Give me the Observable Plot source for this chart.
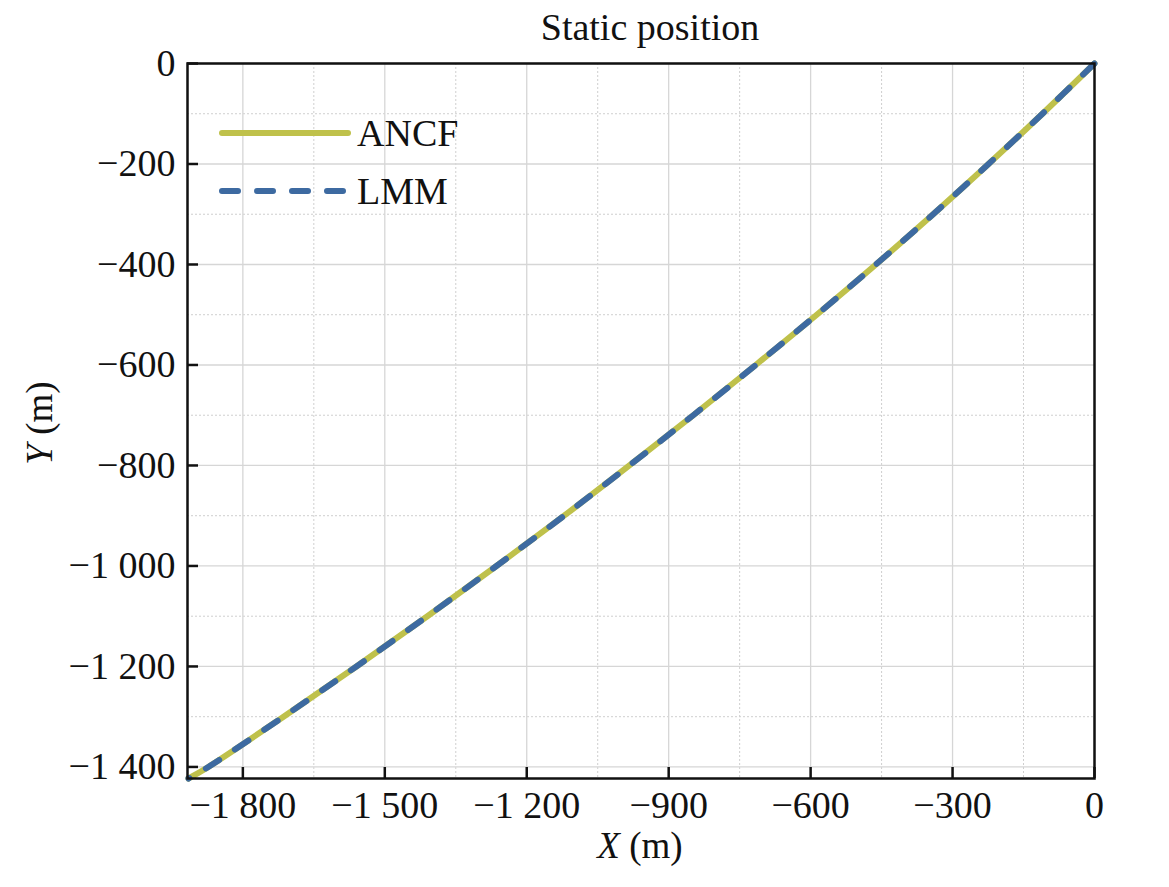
<!DOCTYPE html>
<html><head><meta charset="utf-8">
<script src="https://cdn.jsdelivr.net/npm/d3@7"></script>
<script src="https://cdn.jsdelivr.net/npm/@observablehq/plot@0.6"></script>
<style>
body{margin:0;background:#fff;}
#wrap{position:relative;width:1169px;height:887px;}
</style></head><body><div id="wrap"></div>
<script>
// ---- data ----
const title = "Static position";
const seriesNames = ["ANCF", "LMM"];
const seriesColors = ["#bfc14b", "#3d6aa1"];
const ancfX = [0, -110, -224, -341, -462, -587, -716, -848, -983, -1121, -1264, -1410, -1560, -1714, -1873, -1915];
const ancfY = [0, -100, -200, -300, -400, -500, -600, -700, -800, -900, -1000, -1100, -1200, -1300, -1400, -1423];
const lmmX  = [0, -110, -224, -341, -462, -587, -716, -848, -983, -1121, -1264, -1410, -1560, -1714, -1873, -1915];
const lmmY  = [0, -100, -200, -300, -400, -500, -600, -700, -800, -900, -1000, -1100, -1200, -1300, -1400, -1423];
const xTicks = [-1800, -1500, -1200, -900, -600, -300, 0];
const xMinorTicks = [-1650, -1350, -1050, -750, -450, -150];
const yTicks = [0, -200, -400, -600, -800, -1000, -1200, -1400];
const yMinorTicks = [-100, -300, -500, -700, -900, -1100, -1300];
const xDomain = [-1917, 0];
const yDomain = [-1423, 0];

const FONT = '"Liberation Serif","Times New Roman",serif';
const fmt = d => d === 0 ? "0" : (d < 0 ? "\u2212" : "") + d3.format(",")(Math.abs(d)).replace(/,/g, " ");

const ancf = ancfX.map((x, i) => ({x, y: ancfY[i]}));
const lmm = lmmX.map((x, i) => ({x, y: lmmY[i]}));

const chart = Plot.plot({
  width: 1169,
  height: 887,
  marginLeft: 187,
  marginRight: 75,
  marginTop: 63,
  marginBottom: 109,
  style: {fontFamily: FONT, fontSize: "38px", color: "#111", background: "#fff"},
  x: {domain: xDomain},
  y: {domain: yDomain},
  marks: [
    Plot.gridX(xMinorTicks, {stroke: "#cfcfcf", strokeOpacity: 1, strokeWidth: 1, strokeDasharray: "2,2"}),
    Plot.gridY(yMinorTicks, {stroke: "#cfcfcf", strokeOpacity: 1, strokeWidth: 1, strokeDasharray: "2,2"}),
    Plot.gridX(xTicks, {stroke: "#d6d6d6", strokeOpacity: 1, strokeWidth: 1.3}),
    Plot.gridY(yTicks, {stroke: "#d6d6d6", strokeOpacity: 1, strokeWidth: 1.3}),
    Plot.line(ancf, {x: "x", y: "y", stroke: seriesColors[0], strokeWidth: 6, curve: "catmull-rom"}),
    Plot.line(lmm, {x: "x", y: "y", stroke: seriesColors[1], strokeWidth: 6, strokeDasharray: "16,19", strokeLinecap: "round", curve: "catmull-rom"}),
    Plot.frame({stroke: "#111", strokeWidth: 2.5}),
    Plot.axisX(xTicks, {tickFormat: fmt, tickSize: -11, tickPadding: 24, strokeWidth: 2.5, label: null, fontSize: 38}),
    Plot.axisY(yTicks, {tickFormat: fmt, tickSize: -11, tickPadding: 23, strokeWidth: 2.5, label: null, fontSize: 38})
  ]
});
document.getElementById("wrap").appendChild(chart);

// ---- title, axis labels and legend ----
const svg = d3.select(chart);
const g = svg.append("g").attr("font-family", FONT).attr("fill", "#111");
g.append("text").attr("x", 650).attr("y", 40).attr("text-anchor", "middle").attr("font-size", 38).text(title);
const xl = g.append("text").attr("x", 640).attr("y", 858).attr("text-anchor", "middle").attr("font-size", 37);
xl.append("tspan").attr("font-style", "italic").text("X");
xl.append("tspan").text(" (m)");
const yl = g.append("text").attr("transform", "translate(52,423) rotate(-90)").attr("text-anchor", "middle").attr("font-size", 37);
yl.append("tspan").attr("font-style", "italic").text("Y");
yl.append("tspan").text(" (m)");

const legY = [133, 191];
seriesNames.forEach((name, i) => {
  const ln = g.append("line").attr("x1", 222).attr("x2", 348).attr("y1", legY[i]).attr("y2", legY[i])
    .attr("stroke", seriesColors[i]).attr("stroke-width", 6).attr("stroke-linecap", "round");
  if (i === 1) ln.attr("stroke-dasharray", "16,19");
  g.append("text").attr("x", 357).attr("y", legY[i] + 13).attr("text-anchor", "start").attr("font-size", 38).text(name);
});
</script>
</body></html>
